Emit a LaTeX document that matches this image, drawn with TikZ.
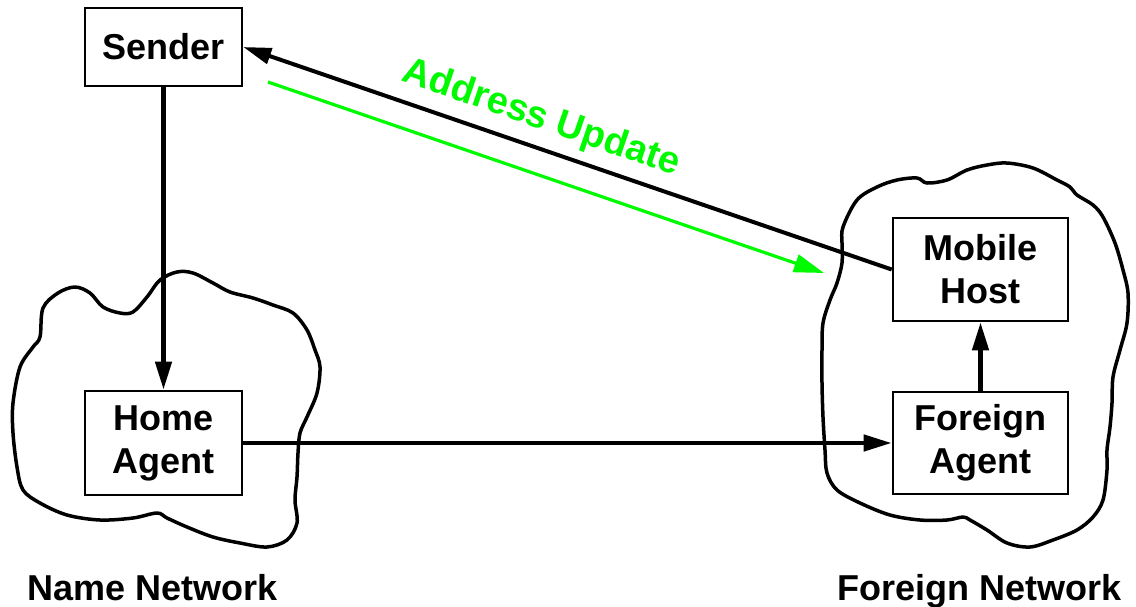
\documentclass[tikz,border=0pt]{standalone}
\usepackage{fontspec}
\setmainfont{Liberation Sans}
\usetikzlibrary{arrows.meta}
\definecolor{updgreen}{RGB}{0,250,0}
\begin{document}
\begin{tikzpicture}[x=1pt,y=-1pt,
  font=\fontsize{36}{43}\selectfont\bfseries,
  box/.style={draw,line width=2.6pt,inner sep=0pt,align=center},
  cloud/.style={draw,line width=3.5pt,line join=round},
  link/.style={line width=4.5pt,-{Triangle[length=28pt,width=16pt]}},
  upd/.style={line width=3.2pt,updgreen,-{Triangle[length=30pt,width=18pt]}},
  netlabel/.style={anchor=base west,inner sep=0pt}]
\useasboundingbox (0,0) rectangle (1136,606);

% home network cloud
\draw[cloud] plot[smooth cycle,tension=0.55] coordinates {
  (43,308) (58,293) (75,287) (90,293) (103,307) (120,313) (133,312)
  (147,297) (160,280) (177,272) (193,273) (213,283) (230,292) (253,298)
  (273,305) (293,313) (307,330) (315,350) (320,367) (317,393) (307,417)
  (300,433) (298,453) (297,477) (295,500) (297,523) (287,540) (267,547)
  (240,543) (213,537) (187,527) (167,518) (157,513) (133,518) (100,520)
  (67,515) (40,503) (23,490) (17,467) (13,433) (13,403) (20,367)
  (33,347) (40,337)};

% foreign network cloud
\draw[cloud] plot[smooth cycle,tension=0.55] coordinates {
  (843,227) (857,200) (877,187) (897,180) (917,178) (927,183) (947,180)
  (967,170) (987,165) (1007,163) (1033,168) (1057,180) (1070,187)
  (1077,195) (1093,205) (1103,217) (1115,243) (1123,270) (1128,293)
  (1127,323) (1120,350) (1113,377) (1112,403) (1110,427) (1107,450)
  (1107,470) (1103,500) (1093,517) (1077,530) (1053,540) (1030,547)
  (1007,543) (987,530) (970,520) (963,517) (947,520) (920,520) (890,515)
  (860,503) (837,490) (827,473) (825,450) (823,417) (822,383) (822,350)
  (823,323) (830,300) (837,283) (842,263) (842,243)};

% hosts and agents
\node[box,minimum width=157pt,minimum height=78pt] (sender) at (163.5,47) {Sender};
\node[box,minimum width=157pt,minimum height=104pt] (home) at (163.5,443) {Home\\Agent};
\node[box,minimum width=175pt,minimum height=103pt] (mobile) at (980.5,269.5) {Mobile\\Host};
\node[box,minimum width=175pt,minimum height=102pt] (foreign) at (980.5,443) {Foreign\\Agent};

% network names
\node[netlabel] (homenet) at (27,600) {Name Network};
\node[netlabel] (foreignnet) at (837,600) {Foreign Network};

% data path
\draw[link] (sender) -- (home);
\draw[link] (home) -- (foreign);
\draw[link] (foreign) -- (mobile);

% address update from the mobile host back to the sender
\draw[line width=4pt,{Triangle[length=28pt,width=16pt]}-] (sender.east) --
  node[pos=0.445,sloped,above=9pt,inner sep=0pt,text=updgreen,
       font=\fontsize{38}{45}\selectfont\bfseries] (updlabel) {Address Update}
  (mobile.west);

\coordinate (updstart) at (268,82);
\coordinate (updend) at (824,273);
\draw[upd] (updstart) -- (updend);
\end{tikzpicture}
\end{document}
